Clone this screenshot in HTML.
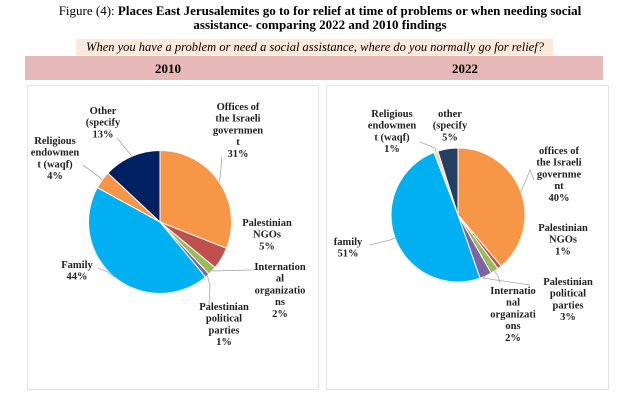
<!DOCTYPE html>
<html><head><meta charset="utf-8">
<style>
body{margin:0;width:640px;height:416px;background:#fff;overflow:hidden;font-family:"Liberation Serif",serif;}
svg{display:block}
.lb{font-family:"Liberation Serif",serif;font-weight:bold;font-size:10.5px;fill:#222;text-anchor:middle;dominant-baseline:middle}
</style></head><body>
<svg id="c" width="640" height="416">
<text x="320" y="15" text-anchor="middle" font-size="13">Figure (4): <tspan font-weight="bold">Places East Jerusalemites go to for relief at time of problems or when needing social</tspan></text>
<text x="320" y="29" text-anchor="middle" font-size="13" font-weight="bold">assistance- comparing 2022 and 2010 findings</text>
<rect x="76" y="39" width="477" height="16" fill="#fde9d9"/>
<text x="315" y="51" text-anchor="middle" font-size="12.5" font-style="italic">When you have a problem or need a social assistance, where do you normally go for relief?</text>
<rect x="25" y="56" width="578" height="24" fill="#e6b8b7"/>
<text x="168" y="73" text-anchor="middle" font-size="13" font-weight="bold">2010</text>
<text x="465" y="73" text-anchor="middle" font-size="13" font-weight="bold">2022</text>
<rect x="27.5" y="85.5" width="291" height="304" fill="#fff" stroke="#e3e3e3"/>
<rect x="326.5" y="85.5" width="282" height="304" fill="#fff" stroke="#e3e3e3"/>
<g id="p1"></g>
<g id="p2"></g>
</svg>
<script>
const cats2010=["Offices of the Israeli government","Palestinian NGOs","International organizations","Palestinian political parties","Family","Religious endowment (waqf)","Other (specify"];
const vals2010=[31,5,2,1,44,4,13];
const cats2022=["offices of the Israeli government","Palestinian NGOs","International organizations","Palestinian political parties","family","Religious endowment (waqf)","other (specify"];
const vals2022=[40,1,2,3,51,1,5];
const lines2010=[["Offices of","the Israeli","governmen","t"],["Palestinian","NGOs"],["Internation","al","organizatio","ns"],["Palestinian","political","parties"],["Family"],["Religious","endowmen","t (waqf)"],["Other","(specify"]];
const lines2022=[["offices of","the Israeli","governme","nt"],["Palestinian","NGOs"],["Internatio","nal","organizati","ons"],["Palestinian","political","parties"],["family"],["Religious","endowmen","t (waqf)"],["other","(specify"]];
const colors2010=["#f79646","#c0504d","#9bbb59","#8064a2","#00b0f0","#f79646","#002060"];
const colors2022=["#f79646","#c0504d","#9bbb59","#8064a2","#00b0f0","#fbd4b4","#243f60"];
const NS="http://www.w3.org/2000/svg";
function el(t,a,p){const e=document.createElementNS(NS,t);for(const k in a)e.setAttribute(k,a[k]);p.appendChild(e);return e;}
function draw(g,cx,cy,r,vals,cats,lines,colors,lab){
  const tot=vals.reduce((a,b)=>a+b,0);let a0=-Math.PI/2;
  vals.forEach((v,i)=>{
    const a1=a0+v/tot*2*Math.PI;
    const x0=cx+r*Math.cos(a0),y0=cy+r*Math.sin(a0),x1=cx+r*Math.cos(a1),y1=cy+r*Math.sin(a1);
    const p=el('path',{d:`M${cx},${cy}L${x0},${y0}A${r},${r} 0 ${a1-a0>Math.PI?1:0} 1 ${x1},${y1}Z`,fill:colors[i],stroke:'#fff','stroke-width':1},g);
    
    
    const am=(a0+a1)/2, L=lab[i];
    if(L.lx!==undefined){
      const ln=el('polyline',{points:`${cx+r*Math.cos(am)},${cy+r*Math.sin(am)} ${L.lx},${L.ly} ${L.ex},${L.ey}`,fill:'none',stroke:'#a6a6a6','stroke-width':0.8},g);
      
      
    }
    const t=el('text',{class:'lb',x:L.x,y:L.y},g);
    
    
    const all=lines[i].concat([v+'%']);
    all.forEach((s,k)=>{const ts=el('tspan',{x:L.x,y:L.y+k*11.7},t);ts.textContent=s;});
    a0=a1;
  });
}
draw(document.getElementById('p1'),160,222,71.5,vals2010,cats2010,lines2010,colors2010,[
 {x:238,y:108,lx:220,ly:178,ex:222,ey:157},
 {x:267,y:224},
 {x:280,y:268,lx:252,ly:270,ex:258,ey:269},
 {x:224,y:308,lx:210,ly:285,ex:209,ey:305},
 {x:77,y:266,lx:108,ly:272,ex:98,ey:268},
 {x:55,y:142,lx:98,ly:176,ex:83,ey:165},
 {x:103,y:112,lx:130,ly:154,ex:117,ey:138}]);
draw(document.getElementById('p2'),458,215,67,vals2022,cats2022,lines2022,colors2022,[
 {x:559,y:152,lx:530,ly:170,ex:534,ey:180},
 {x:563,y:229},
 {x:513,y:292,lx:498,ly:276,ex:500,ey:283},
 {x:568,y:283,lx:483,ly:278,ex:530,ey:285},
 {x:348,y:243,lx:390,ly:240,ex:370,ey:245},
 {x:392,y:115,lx:435,ly:148,ex:420,ey:142},
 {x:450,y:115}]);
</script>
</body></html>
